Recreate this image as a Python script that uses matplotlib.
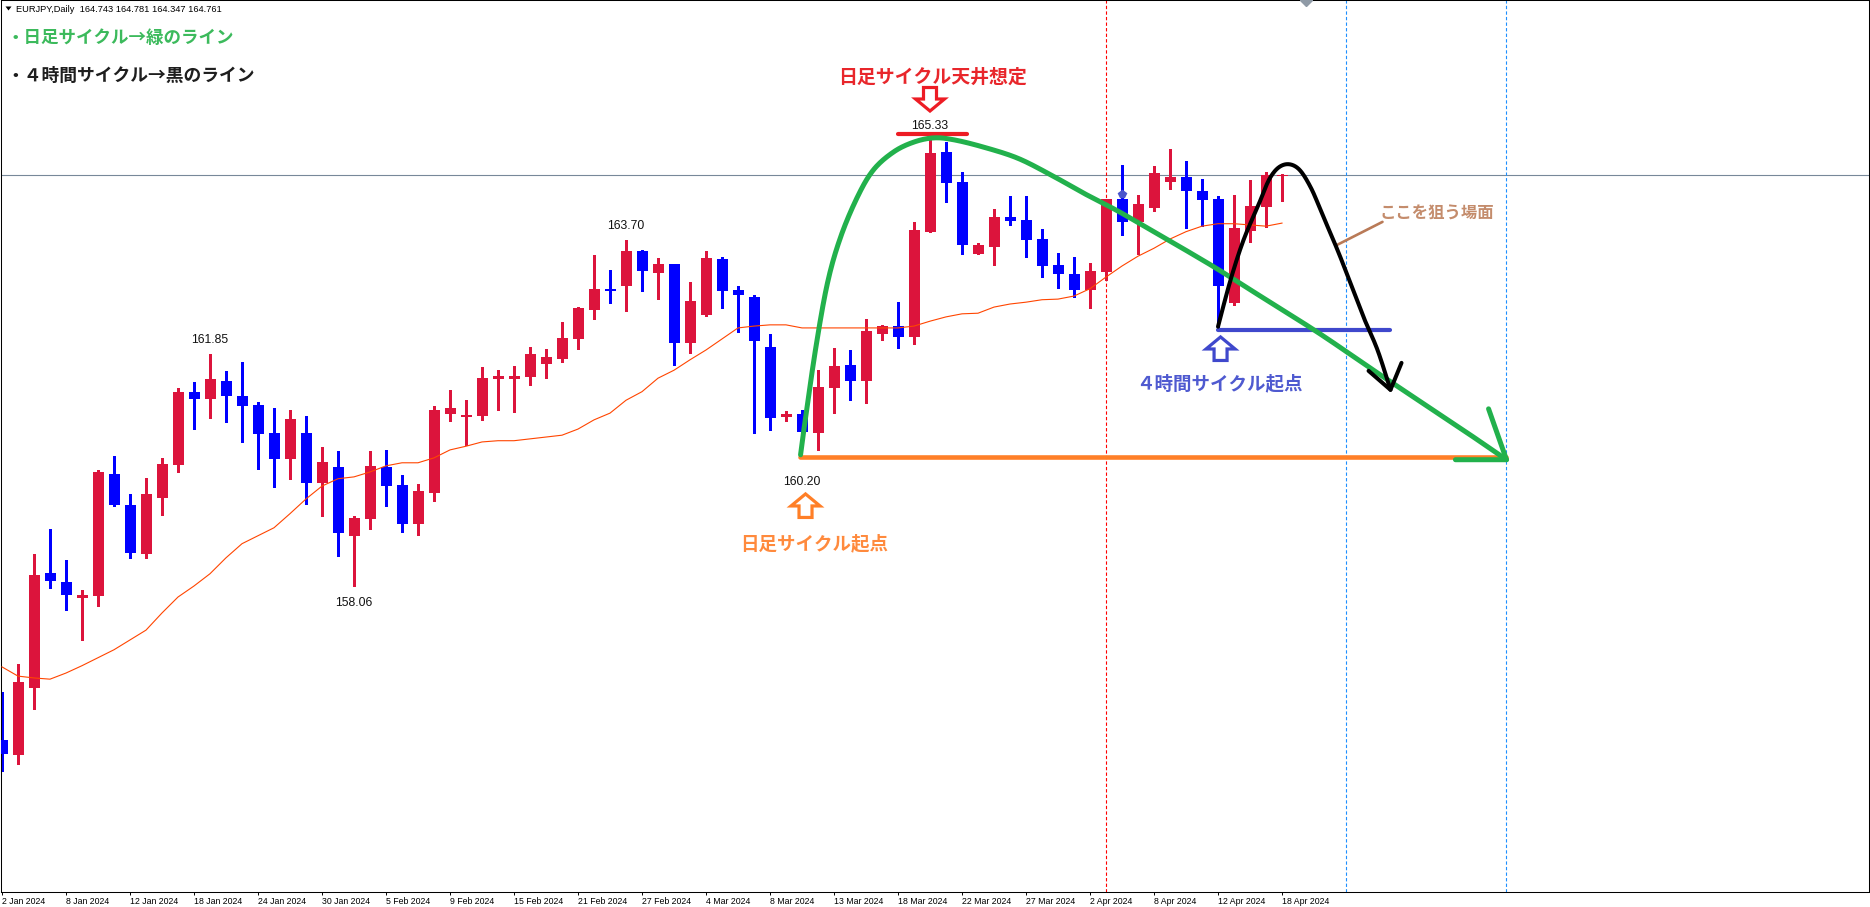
import numpy as np
import matplotlib
matplotlib.use("Agg")
import matplotlib.pyplot as plt
from matplotlib.patches import Polygon

# ---------------- data ----------------
OPEN = [155.55, 155.30, 156.40, 158.27, 158.13, 157.86, 157.90, 159.89, 159.38, 158.58,
        159.50, 160.03, 161.23, 161.11, 161.40, 161.16, 161.01, 160.56, 160.13, 160.56,
        159.74, 160.00, 158.88, 159.15, 160.00, 159.71, 159.07, 159.58, 160.87, 160.82,
        160.83, 161.44, 161.44, 161.47, 161.68, 161.76, 162.09, 162.56, 162.91, 162.95,
        163.53, 163.17, 163.31, 162.02, 162.48, 163.39, 162.89, 162.78, 161.96, 160.82,
        160.87, 160.56, 161.29, 161.67, 161.40, 162.17, 162.30, 162.12, 163.84, 165.14,
        164.65, 163.48, 163.59, 164.08, 164.03, 163.72, 163.30, 163.15, 162.89, 163.18,
        164.37, 164.00, 164.23, 164.65, 164.73, 164.50, 164.37, 162.68, 163.85, 164.24,
        164.743]
HIGH = [156.33, 156.79, 158.58, 158.99, 158.48, 158.00, 159.95, 160.18, 159.56, 159.82,
        160.15, 161.29, 161.39, 161.85, 161.57, 161.71, 161.06, 160.96, 160.93, 160.83,
        160.33, 160.26, 159.20, 160.26, 160.28, 159.87, 159.72, 161.00, 161.26, 161.09,
        161.63, 161.58, 161.65, 161.96, 161.93, 162.37, 162.61, 163.46, 163.22, 163.70,
        163.54, 163.41, 163.32, 163.02, 163.53, 163.43, 162.95, 162.81, 162.17, 160.92,
        160.93, 161.58, 161.94, 161.91, 162.42, 162.32, 162.69, 164.00, 165.33, 165.30,
        164.81, 163.66, 164.21, 164.42, 164.42, 163.88, 163.49, 163.43, 163.33, 164.38,
        164.93, 164.44, 164.91, 165.19, 164.99, 164.70, 164.42, 164.44, 164.68, 164.81,
        164.781]
LOW = [155.04, 155.16, 156.05, 158.03, 157.67, 157.18, 157.73, 159.37, 158.52, 158.52,
       159.22, 159.92, 160.62, 160.80, 160.74, 160.41, 159.97, 159.68, 159.81, 159.40,
       159.20, 158.55, 158.06, 158.99, 159.37, 158.94, 158.89, 159.45, 160.75, 160.36,
       160.77, 160.93, 160.90, 161.34, 161.45, 161.71, 161.93, 162.42, 162.68, 162.55,
       162.87, 162.74, 161.67, 161.86, 162.47, 162.60, 162.20, 160.56, 160.61, 160.75,
       160.49, 160.28, 160.88, 161.09, 161.05, 162.07, 161.94, 162.01, 163.84, 164.32,
       163.48, 163.47, 163.30, 163.95, 163.43, 163.10, 162.92, 162.78, 162.60, 163.05,
       163.79, 163.48, 164.18, 164.54, 163.90, 163.93, 162.29, 162.64, 163.67, 163.92,
       164.347]
CLOSE = [155.32, 156.49, 158.24, 158.14, 157.91, 157.91, 159.92, 159.38, 158.60, 159.56,
         160.05, 161.23, 161.11, 161.44, 161.16, 161.00, 160.54, 160.13, 160.78, 159.74,
         160.08, 158.93, 159.17, 160.02, 159.69, 159.07, 159.61, 160.93, 160.96, 160.85,
         161.45, 161.49, 161.49, 161.85, 161.80, 162.11, 162.60, 162.91, 162.87, 163.53,
         163.20, 163.31, 162.02, 162.71, 163.41, 162.87, 162.81, 162.06, 160.80, 160.87,
         160.57, 161.31, 161.65, 161.40, 162.22, 162.30, 162.12, 163.87, 165.12, 164.63,
         163.62, 163.62, 164.08, 164.01, 163.70, 163.28, 163.15, 162.89, 163.20, 164.37,
         164.00, 164.29, 164.80, 164.73, 164.50, 164.36, 162.95, 163.90, 164.26, 164.76,
         164.761]
MA = [156.74, 156.59, 156.56, 156.54, 156.64, 156.76, 156.89, 157.02, 157.18, 157.34,
      157.62, 157.88, 158.06, 158.26, 158.52, 158.75, 158.88, 159.01, 159.24, 159.48,
      159.69, 159.81, 159.84, 159.92, 160.02, 160.07, 160.07, 160.15, 160.28, 160.34,
      160.41, 160.43, 160.43, 160.46, 160.49, 160.52, 160.62, 160.77, 160.88, 161.09,
      161.23, 161.45, 161.58, 161.75, 161.91, 162.09, 162.27, 162.30, 162.32, 162.32,
      162.27, 162.27, 162.27, 162.27, 162.27, 162.27, 162.27, 162.30, 162.38, 162.45,
      162.50, 162.51, 162.61, 162.66, 162.69, 162.73, 162.74, 162.79, 162.91, 163.10,
      163.28, 163.44, 163.57, 163.72, 163.84, 163.93, 163.97, 163.97, 163.95, 163.93,
      163.98]
DATE_TICKS = [0, 4, 8, 12, 16, 20, 24, 28, 32, 36, 40, 44, 48, 52, 56, 60, 64, 68, 72, 76, 80]
DATE_LABELS = ["2 Jan 2024", "8 Jan 2024", "12 Jan 2024", "18 Jan 2024", "24 Jan 2024",
               "30 Jan 2024", "5 Feb 2024", "9 Feb 2024", "15 Feb 2024", "21 Feb 2024",
               "27 Feb 2024", "4 Mar 2024", "8 Mar 2024", "13 Mar 2024", "18 Mar 2024",
               "22 Mar 2024", "27 Mar 2024", "2 Apr 2024", "8 Apr 2024", "12 Apr 2024",
               "18 Apr 2024"]
BID = CLOSE[-1]

# marked extremes (index, price text)
EXTREMES = [(13, "161.85"), (22, "158.06"), (39, "163.70"), (50, "160.20"), (58, "165.33")]

# annotation geometry in (bar index, price)
GREEN_PATH = [(49.91, 160.20), (50.09, 160.56), (50.84, 161.91), (51.59, 163.00),
              (52.41, 163.75), (53.47, 164.41), (54.47, 164.85), (55.72, 165.14),
              (56.97, 165.30), (58.22, 165.37), (59.47, 165.34), (61.34, 165.22),
              (63.47, 165.04), (65.53, 164.77), (67.59, 164.47), (69.72, 164.18),
              (71.78, 163.87), (73.84, 163.56), (75.97, 163.23), (78.03, 162.89),
              (82.22, 162.20), (86.34, 161.47), (91.34, 160.60), (94.03, 160.12)]
GREEN_HEAD = [(92.91, 160.95), (94.03, 160.12), (90.84, 160.12)]
BLACK_PATH = [(76.00, 162.29), (76.78, 163.05), (77.59, 163.70), (78.47, 164.24),
              (79.28, 164.73), (80.09, 164.93), (80.97, 164.88), (81.78, 164.57),
              (82.59, 164.08), (83.47, 163.54), (84.28, 163.00), (85.09, 162.45),
              (85.97, 161.91), (86.78, 161.26)]
BLACK_HEAD = [(85.41, 161.57), (86.78, 161.26), (87.47, 161.70)]
ORANGE_LEVEL, ORANGE_X = 160.17, (49.9, 94.0)
BLUE_LEVEL, BLUE_X = 162.236, (75.97, 86.78)
RED_LEVEL, RED_X = 165.434, (55.97, 60.34)
BROWN_LINE = [(86.28, 164.00), (83.41, 163.62)]
VLINES = [(69, "#ff0000"), (84, "#1e90ff"), (94, "#1e90ff")]

# ---------------- figure ----------------
W, H = 1870, 907
AX_W, AX_H, AX_B = 1868, 892, 15
fig = plt.figure(figsize=(W / 100, H / 100), dpi=100)
ax = fig.add_axes([0.5 / W, AX_B / H, AX_W / W, AX_H / H])
X0, X1 = -0.09375, 116.656
Y0, Y1 = 153.068, 167.6195
ax.set_xlim(X0, X1)
ax.set_ylim(Y0, Y1)
XPP = (X1 - X0) / AX_W
YPP = (Y1 - Y0) / AX_H

JP = ["Noto Sans CJK JP", "DejaVu Sans"]
LAT = ["Liberation Sans", "DejaVu Sans"]

n = len(OPEN)
idx = np.arange(n)
o, h, l, c = map(np.array, (OPEN, HIGH, LOW, CLOSE))
up = c >= o
cols = np.where(up, "#dc143c", "#0000ff")
ax.vlines(idx, l, h, colors=cols, lw=0.75, antialiased=False, zorder=2)
body_b = np.minimum(o, c)
body_h = np.maximum(np.abs(c - o), 1.3 * YPP)
ax.bar(idx, body_h, bottom=body_b, width=11 / 16, color=cols, linewidth=0,
       antialiased=False, zorder=3)

ax.plot(idx, MA, color="#ff4500", lw=0.8, zorder=4)

# bid line
ax.axhline(BID, color="#778899", lw=0.8, zorder=1)
# vertical dotted lines
for vx, vc in VLINES:
    ax.axvline(vx, color=vc, lw=0.8, linestyle=(0, (3.0, 2.0)), zorder=1)

# extreme labels
for k, txt in EXTREMES:
    is_high = txt in ("161.85", "163.70", "165.33")
    y = HIGH[k] + 11 * YPP if is_high else LOW[k] - 20 * YPP
    if txt == "160.20":
        y = LOW[k] - 48 * YPP
    ax.text(k, y, txt, ha="center", va="baseline", fontsize=8.8, family=LAT,
            color="#111111", zorder=6)


def catmull(pts, m=24):
    P = np.asarray(pts, float)
    P = np.vstack([P[0], P, P[-1]])
    out = []
    t = np.linspace(0, 1, m, endpoint=False)[:, None]
    for i in range(1, len(P) - 2):
        p0, p1, p2, p3 = P[i - 1], P[i], P[i + 1], P[i + 2]
        out.append(0.5 * (2 * p1 + (-p0 + p2) * t + (2 * p0 - 5 * p1 + 4 * p2 - p3) * t ** 2
                          + (-p0 + 3 * p1 - 3 * p2 + p3) * t ** 3))
    out.append(P[-2][None])
    return np.vstack(out)


# orange level line
ax.plot(ORANGE_X, [ORANGE_LEVEL] * 2, color="#ff7f27", lw=3.3, solid_capstyle="round", zorder=7)
# blue level line
ax.plot(BLUE_X, [BLUE_LEVEL] * 2, color="#3f48cc", lw=3.0, solid_capstyle="round", zorder=7)
# red top segment
ax.plot(RED_X, [RED_LEVEL] * 2, color="#ed1c24", lw=3.0, solid_capstyle="round", zorder=7)
# green curve
g = catmull(GREEN_PATH)
ax.plot(g[:, 0], g[:, 1], color="#22b14c", lw=3.6, solid_capstyle="round",
        solid_joinstyle="round", zorder=8)
gh = np.array(GREEN_HEAD)
ax.plot(gh[:, 0], gh[:, 1], color="#22b14c", lw=3.6, solid_capstyle="round",
        solid_joinstyle="round", zorder=8)
# black curve
b = catmull(BLACK_PATH)
ax.plot(b[:, 0], b[:, 1], color="black", lw=2.9, solid_capstyle="round",
        solid_joinstyle="round", zorder=9)
bh = np.array(BLACK_HEAD)
ax.plot(bh[:, 0], bh[:, 1], color="black", lw=2.9, solid_capstyle="round",
        solid_joinstyle="round", zorder=9)
# brown pointer
br = np.array(BROWN_LINE)
ax.plot(br[:, 0], br[:, 1], color="#b97a57", lw=1.9, solid_capstyle="round", zorder=8)


def hollow_arrow(k, price, color, down=False):
    v = [(0, 2), (14.5, 14), (6.5, 14), (6.5, 25.5), (-6.5, 25.5), (-6.5, 14), (-14.5, 14)]
    s = 1 if down else -1
    pts = [(k + dx * XPP, price + s * dy * YPP) for dx, dy in v]
    ax.add_patch(Polygon(pts, closed=True, facecolor="white", edgecolor=color,
                         lw=2.3, joinstyle="miter", zorder=10))


hollow_arrow(58.0, 165.776, "#ed1c24", down=True)
hollow_arrow(50.22, 159.594, "#ff7f27")
hollow_arrow(76.16, 162.155, "#3f48cc")

# small object marker on bar 70 and chart-shift marker
ax.plot([70], [164.45], marker="p", ms=6, color="#4a55cc", mec="#4a55cc", zorder=6)
ax.plot([81.5], [Y1], marker="D", ms=6, color="#8f9aa6", clip_on=True, zorder=6)

# Japanese annotations
ax.text(58.16, 166.274, "日足サイクル天井想定", ha="center", va="baseline", fontsize=13.6,
        family=JP, weight="bold", color="#e8262b", zorder=11)
ax.text(50.78, 158.655, "日足サイクル起点", ha="center", va="baseline", fontsize=13.3,
        family=JP, weight="bold", color="#ff8a3d", zorder=11)
ax.text(76.09, 161.266, "４時間サイクル起点", ha="center", va="baseline", fontsize=13.3,
        family=JP, weight="bold", color="#4f5ad0", zorder=11)
ax.text(89.66, 164.047, "ここを狙う場面", ha="center", va="baseline", fontsize=11.8,
        family=JP, weight="bold", color="#c48c6c", zorder=11)

# header
def axf(px, py):
    return px / AX_W, 1 - py / AX_H

tri = [axf(5, 6.5), axf(11, 6.5), axf(8, 10.5)]
ax.add_patch(Polygon(tri, closed=True, transform=ax.transAxes, color="black", lw=0, zorder=12))
ax.text(*axf(16, 12.2), f"EURJPY,Daily  {OPEN[-1]:.3f} {HIGH[-1]:.3f} {LOW[-1]:.3f} {CLOSE[-1]:.3f}",
        transform=ax.transAxes, ha="left", va="baseline", fontsize=6.7, family=LAT,
        color="black", zorder=12)
ax.text(*axf(6, 43), "・日足サイクル→緑のライン", transform=ax.transAxes, ha="left",
        va="baseline", fontsize=12.6, family=JP, weight="bold", color="#3cba5c", zorder=12)
ax.text(*axf(6, 81), "・４時間サイクル→黒のライン", transform=ax.transAxes, ha="left",
        va="baseline", fontsize=12.8, family=JP, weight="bold", color="#1e1e1e", zorder=12)

# axes styling
for sp in ax.spines.values():
    sp.set_linewidth(0.75)
    sp.set_color("black")
ax.set_xticks(DATE_TICKS)
ax.set_xticklabels(DATE_LABELS, ha="left", fontsize=6.3, family=LAT)
ax.tick_params(axis="x", direction="out", length=2.3, width=0.7, pad=1.5, colors="black")
ax.yaxis.tick_right()
ax.set_yticks(np.arange(167.11, Y0, -0.54))
ax.set_yticklabels([])
ax.tick_params(axis="y", direction="out", length=3, width=0.7, right=True, left=False)

fig.savefig("out.png", dpi=100)
